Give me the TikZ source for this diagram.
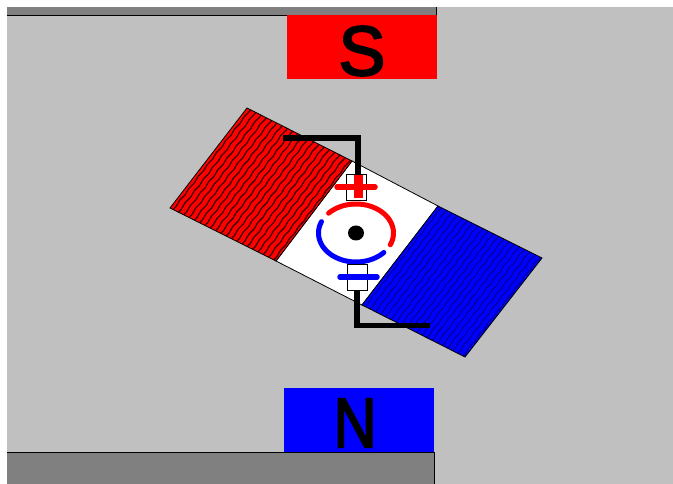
\documentclass[tikz,border=0pt]{standalone}
\usepackage{fontspec}
\setmainfont{Liberation Sans}
\usetikzlibrary{calc,decorations.pathmorphing}
\definecolor{panel}{RGB}{192,192,192}
\definecolor{pole}{RGB}{128,128,128}
\tikzset{
  wire/.style={line width=5.5pt,draw=black,line cap=butt,line join=miter},
  thinedge/.style={line width=.8pt,draw=black},
  stripe/.style={line width=1.3pt,decorate,decoration={snake,amplitude=.5pt,segment length=15pt}},
  polelabel/.style={font=\fontsize{70}{70}\selectfont,text=black,inner sep=0pt,anchor=center},
  brush/.style={line width=5.5pt,line cap=round},
  arcline/.style={line width=5pt,line cap=round},
  brushbox/.style={draw=black,line width=.9pt,fill=white}
}
\begin{document}
\begin{tikzpicture}[x=1pt,y=-1pt]
\useasboundingbox (0,0) rectangle (673,484);
\fill[white] (0,0) rectangle (673,484);
\fill[panel] (7,7) rectangle (673,484);
% pole pieces
\fill[pole] (7,7) rectangle (436,15);
\draw[thinedge] (7,15) -- (436,15) -- (436,7);
\fill[pole] (7,452) rectangle (434,484);
\draw[thinedge] (7,452) -- (434,452) -- (434,484);
\fill[red] (287,15) rectangle (437,79);
\fill[blue] (284,388) rectangle (434,452);
\node[polelabel] (S) at (362,51) {\addfontfeature{FakeBold=3}S};
\node[polelabel,xscale=.85] (N) at (355,423) {\addfontfeature{FakeBold=3}N};
% rotor
\coordinate (a) at (247,108);
\coordinate (b) at (352,161);
\coordinate (c) at (276,261);
\coordinate (d) at (170,208);
\coordinate (e) at (438,206);
\coordinate (f) at (362,305);
\coordinate (g) at (542,258);
\coordinate (h) at (465,357);
\path[thinedge,fill=white] (b) -- (e) -- (f) -- (c) -- cycle;
\fill[red] (a) -- (b) -- (c) -- (d) -- cycle;
\begin{scope}
  \clip (a) -- (b) -- (c) -- (d) -- cycle;
  \foreach \t in {0.03,0.08,...,1.0}
    \draw[stripe,draw=black!75!red] ($(d)!\t!(c)+(-5,6.4)$) -- ($(a)!\t!(b)+(5,-6.4)$);
\end{scope}
\draw[thinedge] (a) -- (b) -- (c) -- (d) -- cycle;
\fill[blue] (e) -- (g) -- (h) -- (f) -- cycle;
\begin{scope}
  \clip (e) -- (g) -- (h) -- (f) -- cycle;
  \foreach \t in {0.03,0.08,...,1.0}
    \draw[stripe,line width=1pt,draw=black!45!blue] ($(f)!\t!(h)+(-5,6.4)$) -- ($(e)!\t!(g)+(5,-6.4)$);
\end{scope}
\draw[thinedge] (e) -- (g) -- (h) -- (f) -- cycle;
% commutator
\draw[arcline,red] plot[smooth,domain=137:-24,samples=40] ({356+37.5*cos(\x)},{233-29*sin(\x)});
\draw[arcline,blue] plot[smooth,domain=157:318,samples=40] ({356+37.5*cos(\x)},{233-29*sin(\x)});
\fill[black] (356,233) ellipse [x radius=8,y radius=7.5];
% brushes
\node[brushbox,minimum width=20pt,minimum height=26pt,inner sep=0pt] (topbox) at (356.5,187) {};
\node[brushbox,minimum width=20pt,minimum height=26pt,inner sep=0pt] (botbox) at (357,277) {};
\coordinate (t0) at (283,138);
\coordinate (t1) at (358,138);
\coordinate (b0) at (430,325.5);
\coordinate (b1) at (357,325.5);
\draw[wire] (t0) -- (t1) -- (t1 |- topbox.north);
\draw[wire] (botbox.south) -- (botbox.south |- b1) -- (b0);
\draw[brush,red] (337,187) -- (375,187);
\draw[line width=9pt,red] (358,175) -- (358,198);
\draw[brush,blue] (340,277) -- (377,277);
\end{tikzpicture}
\end{document}
